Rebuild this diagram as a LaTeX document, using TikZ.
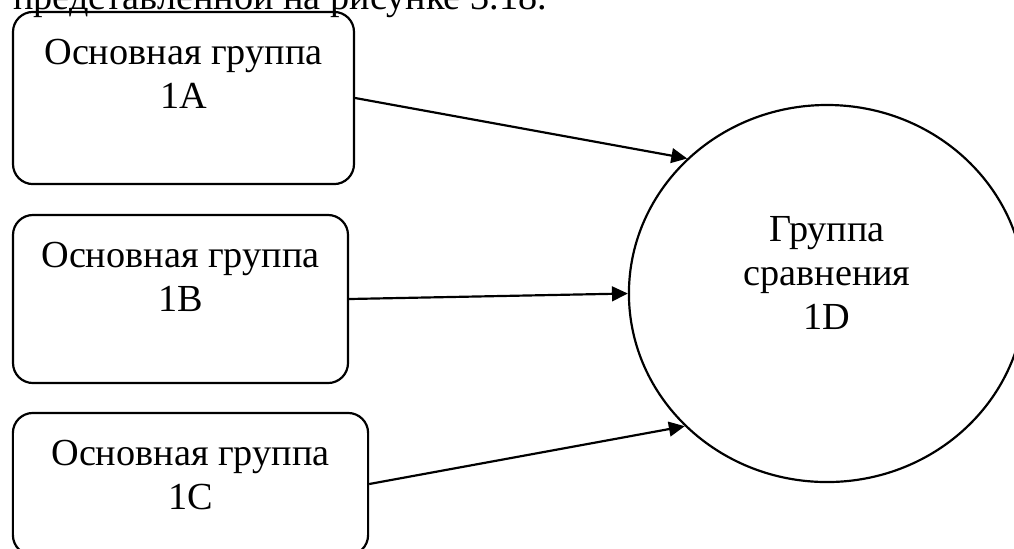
\documentclass[tikz,border=0pt]{standalone}
\usepackage{fontspec}
\setmainfont{Liberation Serif}
\usetikzlibrary{positioning, arrows.meta, shapes.geometric}

\begin{document}
\begin{tikzpicture}[x=0.366pt, y=-0.366pt, line width=0.8pt,
  font=\fontsize{14pt}{16pt}\selectfont,
  group/.style={draw, rounded corners=7.3pt, inner sep=0pt},
  grouptext/.style={align=center, anchor=north, inner sep=0pt, yshift=-10pt},
  arr/.style={-{Triangle[length=5.8pt, width=5.4pt]}}]
\useasboundingbox (0,0) rectangle (1014,548);
% text line above, cut off
\node[anchor=base west, inner sep=0pt] (cap) at (12,9) {представленной на рисунке 3.18.};
% main groups
\node[group, minimum width=124.8pt, minimum height=63pt,
  label={[grouptext]north:Основная группа\\1A}] (A) at (183.5,98) {};
\node[group, minimum width=122.6pt, minimum height=61.5pt,
  label={[grouptext]north:Основная группа\\1B}] (B) at (180.5,299) {};
\node[group, minimum width=130pt, minimum height=52pt,
  label={[grouptext]north:Основная группа\\1C}] (C) at (190.5,484) {};
% comparison group
\node[ellipse, draw, minimum width=145pt, minimum height=138pt,
  label={[align=center, inner sep=0pt, yshift=7.5pt]center:Группа\\сравнения\\1D}] (D) at (827,293.5) {};
% arrows
\draw[arr] (A.east) -- (D.136.4);
\draw[arr] (B.east) -- (D.180);
\draw[arr] (C.east) -- (D.223.6);
\end{tikzpicture}
\end{document}
